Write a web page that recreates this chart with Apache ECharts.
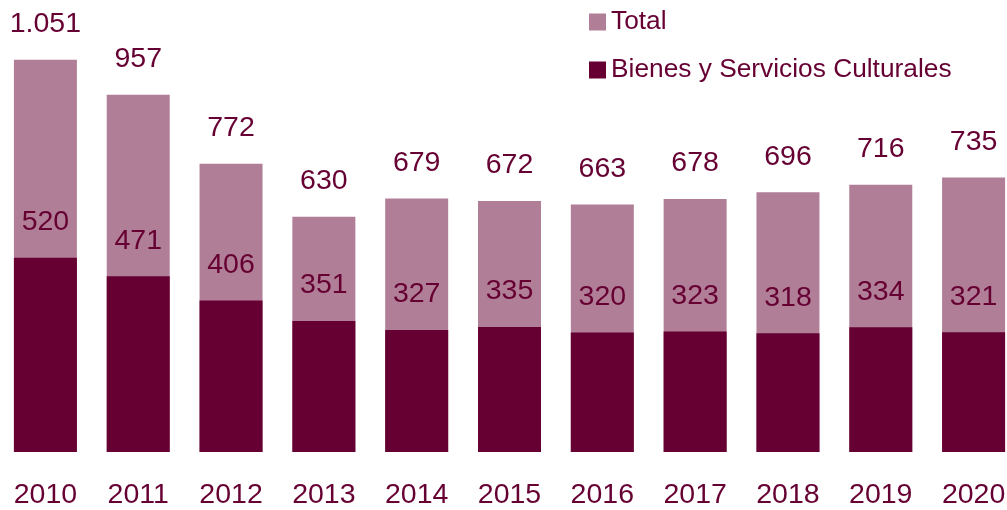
<!DOCTYPE html>
<html>
<head>
<meta charset="utf-8">
<script src="https://cdn.jsdelivr.net/npm/echarts@6/dist/echarts.min.js"></script>
<style>
  html, body { margin: 0; padding: 0; background: #fff; overflow: hidden; }
  #chart { width: 1021px; height: 510px; margin-left: -1px; }
</style>
</head>
<body>
<div id="chart"></div>
<script>
// datos
const years = ['2010', '2011', '2012', '2013', '2014', '2015', '2016', '2017', '2018', '2019', '2020']
const total = [1051, 957, 772, 630, 679, 672, 663, 678, 696, 716, 735]
const culturales = [520, 471, 406, 351, 327, 335, 320, 323, 318, 334, 321]

const textColor = '#660033'
const font = 'Liberation Sans, Arial, sans-serif'

// separador de miles con punto
function fmt(v) {
  return String(v).replace(/\B(?=(\d{3})+(?!\d))/g, '.')
}

const chart = echarts.init(document.getElementById('chart'))
chart.setOption({
  animation: false,
  color: ['#b07e96', '#660033'],
  legend: {
    orient: 'vertical',
    left: 585,
    top: 4,
    itemWidth: 17,
    itemHeight: 17,
    itemGap: 22,
    itemStyle: { borderWidth: 0 },
    icon: 'rect',
    textStyle: { color: textColor, fontSize: 26.3, fontFamily: font },
    data: ['Total', 'Bienes y Servicios Culturales']
  },
  grid: {
    left: 0,
    right: 0,
    top: 4,
    bottom: 57
  },
  xAxis: {
    type: 'category',
    data: years,
    axisLine: { show: false },
    axisTick: { show: false },
    axisLabel: {
      color: textColor,
      fontSize: 28.5,
      fontFamily: font,
      margin: 29
    }
  },
  yAxis: {
    type: 'value',
    min: 0,
    max: 1200,
    show: false,
    splitLine: { show: false }
  },
  series: [
    {
      name: 'Total',
      type: 'bar',
      data: total,
      barWidth: 63,
      label: {
        show: true,
        position: 'top',
        distance: 21,
        color: textColor,
        fontSize: 28.5,
        fontFamily: font,
        formatter: (p) => fmt(p.value)
      }
    },
    {
      name: 'Bienes y Servicios Culturales',
      type: 'bar',
      data: culturales,
      barWidth: 63,
      barGap: '-100%',
      label: {
        show: true,
        position: 'top',
        distance: 21,
        color: textColor,
        fontSize: 28.5,
        fontFamily: font,
        formatter: (p) => fmt(p.value)
      }
    }
  ]
})
</script>
</body>
</html>
